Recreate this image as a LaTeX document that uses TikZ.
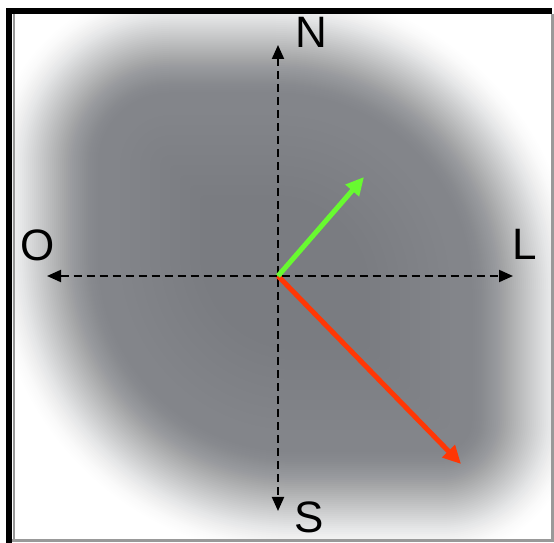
\documentclass[tikz,border=0pt]{standalone}
\usepackage{fontspec}
\setmainfont{Liberation Sans}
\usetikzlibrary{arrows.meta}
\definecolor{blobcore}{RGB}{131,133,138}
\definecolor{vecgreen}{RGB}{104,250,48}
\definecolor{vecred}{RGB}{255,55,5}
\newcommand\setblob[1]{%
  \pgfmathsetmacro\bl{-10+#1}\pgfmathsetmacro\br{580-#1}%
  \pgfmathsetmacro\bt{558-#1}\pgfmathsetmacro\bb{-17+#1}%
  \pgfmathsetmacro\ra{max(180-#1,4)}\pgfmathsetmacro\rc{max(140-#1,4)}%
  \pgfmathsetmacro\rb{max(305-#1,4)}}
\newcommand\blobpath{%
  (\bl,\bt-\ra) arc[start angle=180,end angle=90,radius=\ra]
  -- (\br-\rb,\bt) arc[start angle=90,end angle=0,radius=\rb]
  -- (\br,\bb+\rc) arc[start angle=0,end angle=-90,radius=\rc]
  -- (\bl+\rb,\bb) arc[start angle=-90,end angle=-180,radius=\rb] -- cycle}
\begin{document}
\begin{tikzpicture}[x=1pt,y=1pt,
  axis/.style={line width=2pt,dash pattern=on 8pt off 5pt,{Triangle[length=14pt,width=12pt]}-{Triangle[length=14pt,width=12pt]}},
  vec/.style={line width=5pt,-{Triangle[length=18pt,width=17pt]}},
  lab/.style={font=\fontsize{44}{44}\selectfont}]
\useasboundingbox (0,0) rectangle (554,543);
\fill[white] (12,2) rectangle (552,529);
\begin{scope}
\clip (12,2) rectangle (552,529);
\foreach \d in {2,4,...,120}{
  \pgfmathsetmacro\tA{(\d-2)/120}
  \pgfmathsetmacro\tB{\d/120}
  \pgfmathsetmacro\cA{3*\tA^2-2*\tA^3}
  \pgfmathsetmacro\cB{3*\tB^2-2*\tB^3}
  \pgfmathsetmacro\op{1-(1-\cB)/(1-\cA)}
  \setblob{\d}
  \fill[blobcore,fill opacity=\op] \blobpath;
}
\foreach \d in {130,140,...,210}{
  \setblob{\d}
  \fill[black,fill opacity=0.005] \blobpath;
}
\end{scope}

\draw[black!40,line width=2pt] (14,2) -- (14,529);
\draw[black!40,line width=2.5pt] (552.5,529) -- (552.5,2.5) -- (12,2.5);
\draw[line width=6pt] (9,0) -- (9,532) -- (552,532);

\coordinate (c) at (278,267);
\coordinate (n) at (278,498);
\coordinate (s) at (278,32);
\coordinate (w) at (47,267);
\coordinate (e) at (513,267);
\draw[axis] (n) -- (s);
\draw[axis] (w) -- (e);

\coordinate (g) at (364,366);
\coordinate (r) at (461,79);
\draw[vec,vecred] (c) -- (r);
\draw[vec,vecgreen] (c) -- (g);

\node[lab] (north) at (311,511) {N};
\node[lab] (south) at (309,26) {S};
\node[lab] (west) at (38,298) {O};
\node[lab] (east) at (525,299) {L};
\end{tikzpicture}
\end{document}
